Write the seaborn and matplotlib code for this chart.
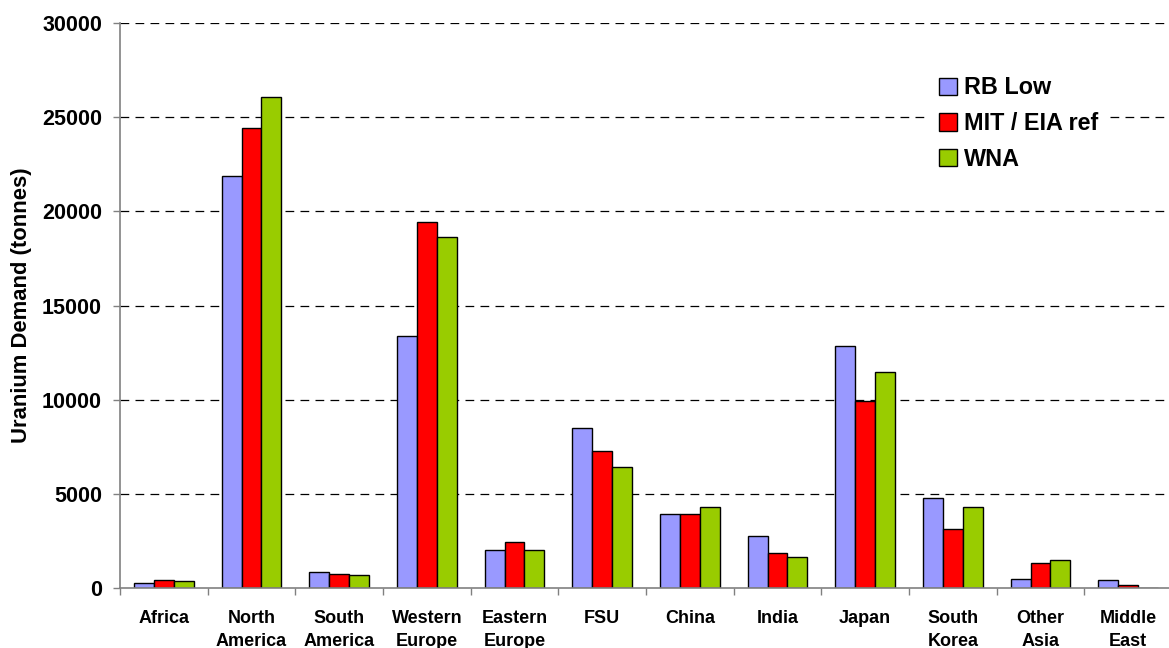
import pandas as pd
import matplotlib
matplotlib.use("Agg")
import matplotlib.pyplot as plt
from matplotlib.patches import Patch
import seaborn as sns

# region names (two-line labels as on the original axis)
regions = ["Africa", "North\nAmerica", "South\nAmerica", "Western\nEurope",
           "Eastern\nEurope", "FSU", "China", "India", "Japan",
           "South\nKorea", "Other\nAsia", "Middle\nEast"]

# uranium demand in tonnes
rb_low = [290, 21880, 850, 13380, 2020, 8500, 3930, 2760, 12850, 4780, 480, 420]
mit_eia = [400, 24430, 745, 19440, 2440, 7275, 3930, 1860, 9930, 3130, 1330, 160]
wna = [390, 26075, 690, 18640, 2020, 6425, 4300, 1650, 11470, 4300, 1490, 0]

series = ["RB Low", "MIT / EIA ref", "WNA"]
colors = ["#9999FF", "#FF0000", "#99CC00"]

sns.set_theme(style="white")
plt.rcParams["font.family"] = ["Liberation Sans", "DejaVu Sans"]
plt.rcParams["font.weight"] = "bold"
plt.rcParams["text.color"] = "black"
plt.rcParams["xtick.labelcolor"] = "black"
plt.rcParams["ytick.labelcolor"] = "black"

df = pd.DataFrame({"Region": regions, series[0]: rb_low,
                   series[1]: mit_eia, series[2]: wna})
df_melted = df.melt(id_vars="Region", var_name="Series", value_name="Demand")

fig = plt.figure(figsize=(11.69, 6.48), dpi=100)
ax = fig.add_axes([120 / 1169, 60 / 648, 1052 / 1169, 565 / 648])

sns.barplot(data=df_melted, x="Region", y="Demand", hue="Series",
            palette=colors, width=0.68, edgecolor="black", linewidth=1,
            saturation=1, legend=False, ax=ax)

ax.set_xlim(-0.5, len(regions) - 0.5)
ax.set_ylim(0, 30000)
ax.set_yticks(range(0, 30001, 5000))
ax.set_xlabel("")
ax.set_ylabel("")

# dashed horizontal gridlines
for v in range(5000, 30001, 5000):
    ax.axhline(v, color="black", linewidth=0.9, linestyle=(0, (7, 5)), zorder=0)

# axes styling
for side in ["top", "right"]:
    ax.spines[side].set_visible(False)
for side in ["left", "bottom"]:
    ax.spines[side].set_color("#808080")
    ax.spines[side].set_linewidth(1.2)

ax.tick_params(axis="y", which="major", direction="out", length=5,
               color="#808080", width=1, labelsize=15.5, pad=8, left=True)
ax.tick_params(axis="x", which="major", length=0, labelsize=13, pad=16)
ax.set_xticks([i - 0.5 for i in range(len(regions) + 1)], minor=True)
ax.tick_params(axis="x", which="minor", direction="out", length=5,
               color="#808080", width=1, bottom=True)
for lab in ax.get_xticklabels() + ax.get_yticklabels():
    lab.set_fontweight("bold")
for lab in ax.get_xticklabels():
    lab.set_linespacing(1.45)

fig.text(22 / 1169, 1 - 305 / 648, "Uranium Demand (tonnes)", rotation=90,
         ha="center", va="center", fontsize=15.8, fontweight="bold")

handles = [Patch(facecolor=c, edgecolor="black", linewidth=1) for c in colors]
leg = ax.legend(handles, series, loc="upper left",
                bbox_to_anchor=(930 / 1169, 1 - 67 / 648),
                bbox_transform=fig.transFigure, frameon=True,
                prop={"size": 16.8, "weight": "bold"}, handlelength=0.75,
                handleheight=0.75, handletextpad=0.3, labelspacing=0.55,
                borderpad=0.4, borderaxespad=0, fancybox=False)
leg.get_frame().set_facecolor("white")
leg.get_frame().set_edgecolor("none")
leg.get_frame().set_alpha(1)

fig.savefig("out.png", dpi=100)
